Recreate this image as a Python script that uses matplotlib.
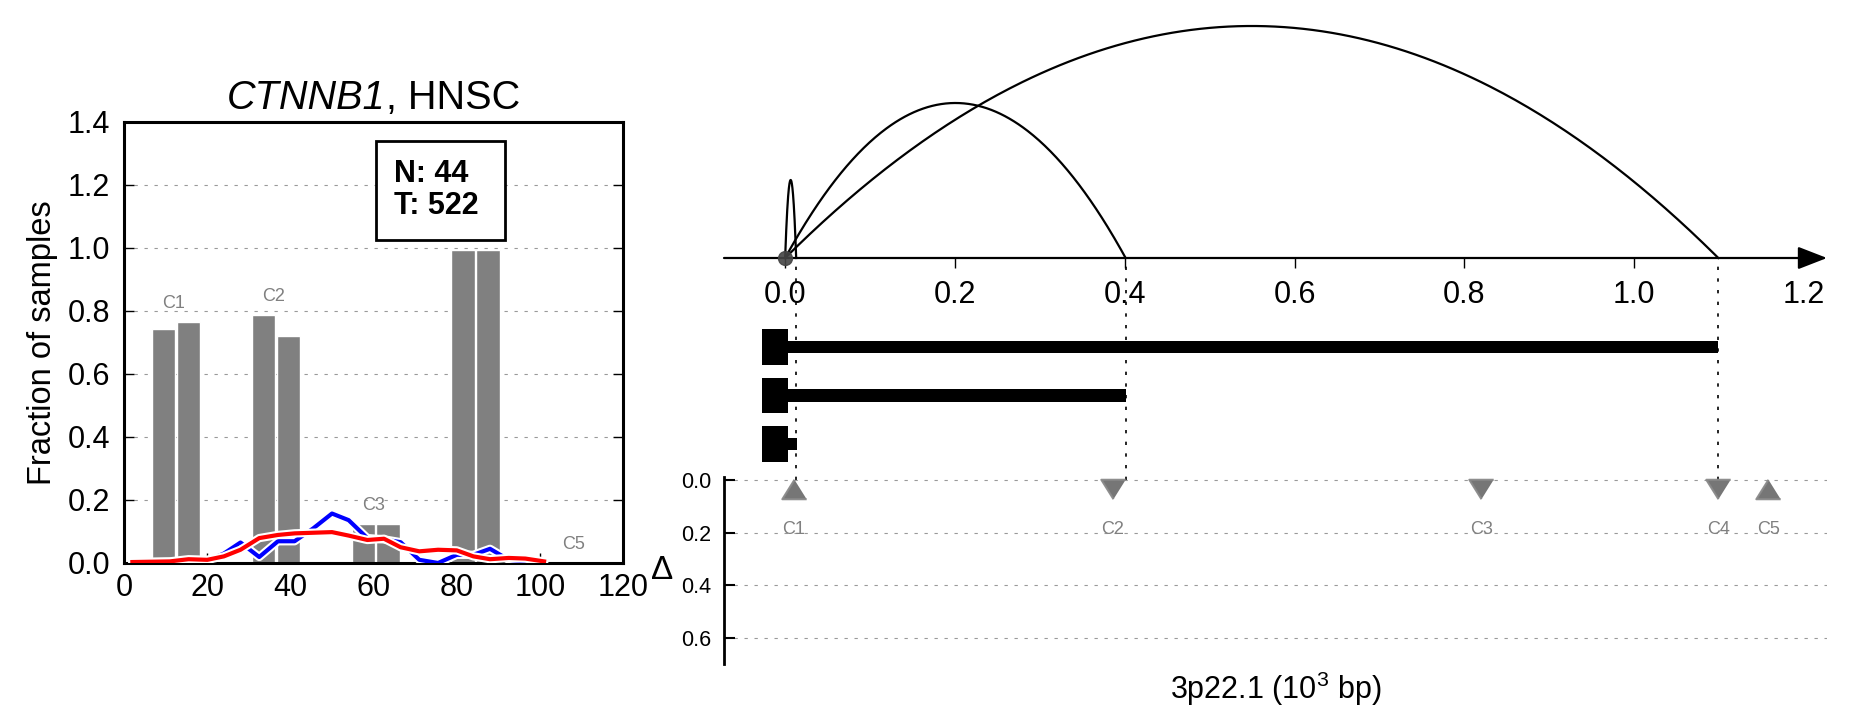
import matplotlib
matplotlib.use("Agg")
import matplotlib.pyplot as plt
import matplotlib.patheffects as pe
from matplotlib.offsetbox import TextArea, HPacker, AnchoredOffsetbox
import numpy as np

plt.rcParams['font.family'] = ['Liberation Sans', 'DejaVu Sans']
plt.rcParams['mathtext.fontset'] = 'custom'
plt.rcParams['mathtext.rm'] = 'Liberation Sans'
plt.rcParams['mathtext.it'] = 'Liberation Sans:italic'

# ---- left panel data ----
clusters = ["C1", "C2", "C3", "C4", "C5"]
cluster_pos = [12, 36, 60, 84, 108]
normal_frac = [0.743, 0.787, 0.124, 0.994, 0.0]
tumor_frac = [0.765, 0.721, 0.124, 0.994, 0.0]

dist_x = [2, 6.5, 11, 15.5, 20, 24, 28, 32.5, 37, 41, 45.5, 50, 54, 58.5,
          62.5, 66.5, 71, 75.5, 80, 84, 88, 92.5, 96.5, 101]
dist_normal = [0.002, 0.003, 0.004, 0.008, 0.008, 0.03, 0.065, 0.019, 0.069,
               0.069, 0.11, 0.157, 0.136, 0.079, 0.075, 0.066, 0.01, 0.0,
               0.026, 0.026, 0.045, 0.01, 0.005, 0.002]
dist_tumor = [0.003, 0.004, 0.005, 0.012, 0.01, 0.021, 0.042, 0.079, 0.089,
              0.094, 0.096, 0.098, 0.087, 0.073, 0.077, 0.05, 0.037, 0.042,
              0.04, 0.021, 0.012, 0.016, 0.014, 0.005]
n_normal = 44
n_tumor = 522

# ---- right panel data ----
arc_starts = [0.0, 0.0, 0.0]
arc_ends = [0.013, 0.401, 1.099]
arc_heights = [78, 155, 232]
tx_ends = [1.099, 0.401, 0.014]
cluster_x = [0.010, 0.386, 0.820, 1.099, 1.158]
cluster_dir = ["up", "down", "down", "down", "up"]
cluster_delta = [0.036, 0.036, 0.036, 0.036, 0.036]

fig = plt.figure(figsize=(18.6, 7.18), dpi=100)

# ================= left panel =================
ax = fig.add_axes([0.0667, 0.2159, 0.2683, 0.6142])
w = 5.6
ax.bar(np.array(cluster_pos) - 2.5, normal_frac, width=w, color='#808080',
       edgecolor='white', linewidth=1, zorder=2)
ax.bar(np.array(cluster_pos) + 3.5, tumor_frac, width=w, color='#808080',
       edgecolor='white', linewidth=1, zorder=2)
for name, g, a, b in zip(clusters, cluster_pos, normal_frac, tumor_frac):
    ax.text(g, max(a, b) + 0.06, name, ha='center', va='center',
            fontsize=13, color='#808080', zorder=3)

outline = [pe.Stroke(linewidth=6, foreground='white'), pe.Normal()]
ax.plot(dist_x, dist_normal, color='#0000ff', lw=3, zorder=4,
        path_effects=outline)
ax.plot(dist_x, dist_tumor, color='#ff0000', lw=3, zorder=5,
        path_effects=outline)

ax.text(76.1, 1.184, "N: %d \nT: %d " % (n_normal, n_tumor), ha='center',
        va='center', fontsize=22, fontweight='bold', multialignment='left',
        linespacing=1.1, zorder=10,
        bbox=dict(boxstyle='square,pad=0.6', fc='white', ec='black', lw=2))

ax.set_xlim(0, 120)
ax.set_ylim(0, 1.4)
ax.set_xticks(range(0, 121, 20))
ax.set_yticks(np.arange(0, 1.41, 0.2))
ax.set_yticklabels(["%.1f" % v for v in np.arange(0, 1.41, 0.2)])
ax.tick_params(direction='in', length=7, width=1, labelsize=22,
               right=True, top=False)
ax.tick_params(axis='y', pad=10)
ax.tick_params(axis='x', pad=7)
ax.yaxis.grid(True, linestyle=(0, (3, 6)), color='#999999', lw=0.8)
ax.set_axisbelow(True)
for s in ax.spines.values():
    s.set_linewidth(2.2)
ax.set_ylabel("Fraction of samples", fontsize=23.5, labelpad=7)

# title: italic gene name + plain cohort
t_gene = TextArea("CTNNB1", textprops=dict(fontsize=28.5, fontstyle='italic'))
t_rest = TextArea(", HNSC", textprops=dict(fontsize=28.5))
title_box = HPacker(children=[t_gene, t_rest], align="baseline", pad=0, sep=0)
ax.add_artist(AnchoredOffsetbox(loc='lower center', child=title_box, pad=0,
                                borderpad=0, frameon=False,
                                bbox_to_anchor=(0.5, 1.012),
                                bbox_transform=ax.transAxes))

# ================= right panel =================
xl = (-0.072, 1.227)
left = 724 / 1860
width = 1103 / 1860

# arcs
ax_arc = fig.add_axes([left, 1 - 258 / 718, width, 248 / 718])
ax_arc.set_xlim(*xl)
ax_arc.set_ylim(0, 248)
for s0, s1, h in zip(arc_starts, arc_ends, arc_heights):
    xs = np.linspace(s0, s1, 300)
    m = (s0 + s1) / 2
    half = (s1 - s0) / 2
    ax_arc.plot(xs, h * (1 - ((xs - m) / half) ** 2), color='black', lw=1.6,
                clip_on=False)
ax_arc.annotate('', xy=(xl[1], 0), xytext=(xl[0], 0),
                arrowprops=dict(arrowstyle='-|>,head_length=0.9,head_width=0.35',
                                mutation_scale=20, lw=1.6, color='black',
                                shrinkA=0, shrinkB=0),
                annotation_clip=False)
ax_arc.plot([0], [0], 'o', color='#444444', ms=10, alpha=0.9, zorder=6,
            clip_on=False)
for s in ax_arc.spines.values():
    s.set_visible(False)
ticks = np.arange(0, 1.21, 0.2)
ax_arc.set_xticks(ticks)
ax_arc.set_xticklabels(["%.1f" % t for t in ticks])
ax_arc.tick_params(axis='x', direction='out', length=7, width=1,
                   labelsize=22, pad=8.5)
ax_arc.xaxis.get_major_ticks()[-1].tick1line.set_visible(False)
ax_arc.set_yticks([])
ax_arc.patch.set_alpha(0)

# transcripts
ax_tx = fig.add_axes([left, 1 - 480 / 718, width, 222 / 718])
ax_tx.set_xlim(*xl)
ax_tx.set_ylim(2.742, -1.835)
rows = np.arange(len(tx_ends))
ax_tx.barh(rows, tx_ends, left=0, height=0.25, color='black')
ax_tx.barh(rows, [0.03] * len(rows), left=-0.027, height=0.74, color='black')
for e in arc_ends:
    ax_tx.axvline(e, color='black', lw=1.2, linestyle=(0, (2, 5)))
ax_tx.axis('off')

# delta panel
ax_d = fig.add_axes([left, 1 - 664 / 718, width, 186.6 / 718])
ax_d.set_xlim(*xl)
ax_d.set_ylim(0.7, -0.01)
tri_up = [(0, 0.8), (-1, -0.8), (1, -0.8)]
tri_down = [(0, -0.8), (-1, 0.8), (1, 0.8)]
for name, x, d, dv in zip(clusters, cluster_x, cluster_dir, cluster_delta):
    ax_d.plot([x], [dv], marker=tri_up if d == "up" else tri_down, ms=17.5,
              color='#6f6f6f', mec='#8a8a8a', mew=1.5, alpha=0.95, zorder=5,
              clip_on=False)
    ax_d.text(x, 0.187, name, ha='center', va='center', fontsize=13,
              color='#808080')
ax_d.set_yticks([0, 0.2, 0.4, 0.6])
ax_d.set_yticklabels(["0.0", "0.2", "0.4", "0.6"])
ax_d.set_xticks([])
ax_d.tick_params(axis='y', direction='in', length=8, width=1.5,
                 labelsize=15.5, pad=9)
ax_d.yaxis.grid(True, linestyle=(0, (3, 6)), color='#999999', lw=0.8)
for k in ['top', 'right', 'bottom']:
    ax_d.spines[k].set_visible(False)
ax_d.spines['left'].set_linewidth(2)
ax_d.patch.set_alpha(0)
ax_d.set_ylabel("Δ", rotation=0, fontsize=24, labelpad=6, ha='right',
                va='center')
ax_d.set_xlabel("3p22.1 (10$^3$ bp)", fontsize=22, labelpad=4)

fig.savefig("out.png", dpi=100)
